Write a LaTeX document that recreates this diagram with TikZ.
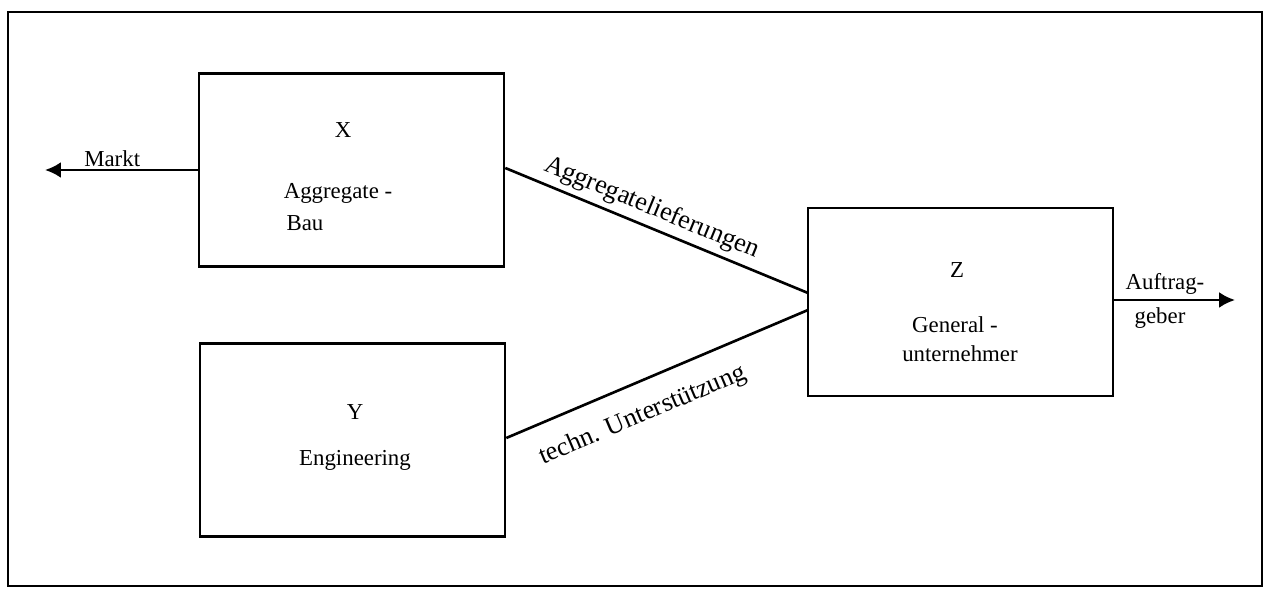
\documentclass[tikz,border=0pt]{standalone}
\usepackage{fontspec}
\setmainfont{Liberation Serif}
\usetikzlibrary{arrows.meta}

\begin{document}
\begin{tikzpicture}[x=0.02cm, y=-0.02cm, line width=1.5pt,
    block/.style={draw, rectangle, minimum width=6.1cm, minimum height=3.85cm},
    boxtext/.style={font=\fontsize{13}{15}\selectfont, inner sep=0pt},
    flowtext/.style={font=\fontsize{15}{17}\selectfont, sloped, inner sep=2pt},
    arr/.style={-{Latex[length=9pt, width=9pt]}}]

    % -- Rahmen --
    \useasboundingbox (0,0) rectangle (1268,590);
    \draw[line width=1.2pt] (8,12) rectangle (1262,586);

    % -- Die drei Bloecke --
    \node[block] (X) at (351.5,170) {};
    \node[block] (Y) at (352.5,440) {};
    \node[block, minimum height=3.76cm] (Z) at (960.5,302) {};

    % Beschriftungen in den Bloecken
    \node[boxtext] (xlab) at (343,130) {X};
    \node[boxtext] (xname) at (338,193) {Aggregate -};
    \node[boxtext] (xbau) at (305,223) {Bau};
    \node[boxtext] (ylab) at (355,412) {Y};
    \node[boxtext] (yname) at (355,460) {Engineering};
    \node[boxtext] (zlab) at (957,270) {Z};
    \node[boxtext] (zname) at (955,325) {General -};
    \node[boxtext] (zname2) at (960,354) {unternehmer};

    % -- Verbindungen --
    \coordinate (zin1) at (808,293);
    \coordinate (zin2) at (808,310);
    \coordinate (markt) at (45,170);
    \coordinate (kunde) at (1235,300);

    \draw (X.east |- 0,168) -- (zin1)
        node[flowtext, pos=0.46, above=1pt] {Aggregatelieferungen};
    \draw (Y.east |- 0,438) -- (zin2)
        node[flowtext, pos=0.41, below=9pt] {techn. Unterstützung};

    % Pfeile nach aussen
    \draw[arr] (X.west) -- (markt) node[boxtext, pos=0.56, above=1pt] {Markt};
    \draw[arr] (Z.east |- 0,300) -- (kunde);
    \node[boxtext] (auftrag) at (1165,284) {Auftrag-};
    \node[boxtext] (geber) at (1160,318) {geber};
\end{tikzpicture}
\end{document}
